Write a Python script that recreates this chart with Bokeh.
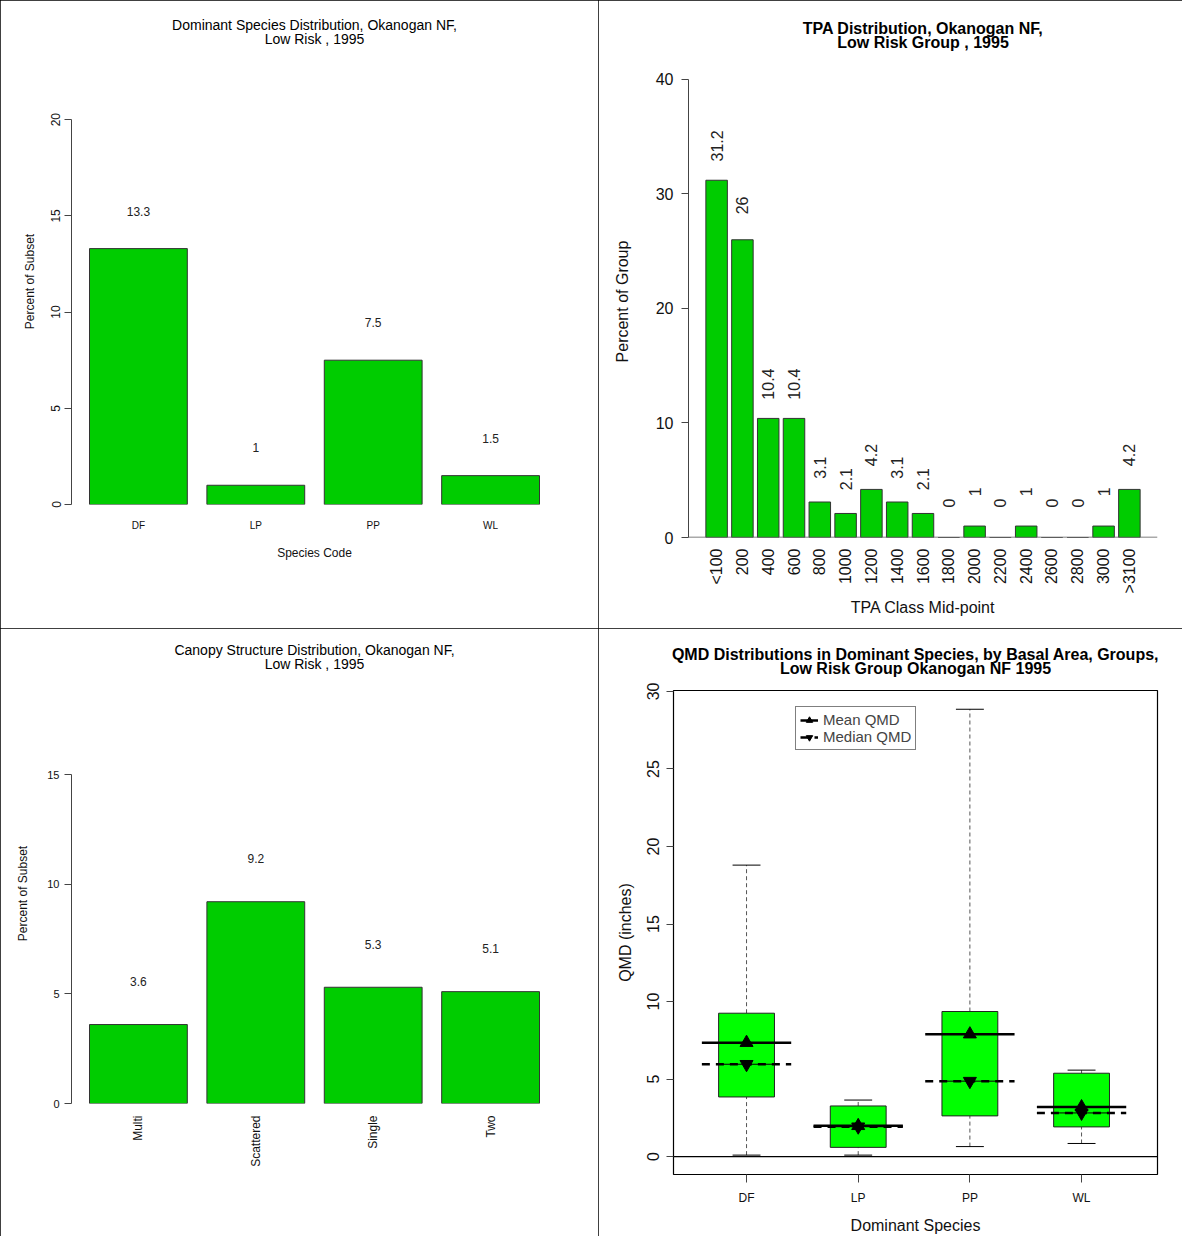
import math
import numpy as np
from bokeh.plotting import figure
from bokeh.layouts import column, row
from bokeh.models import (Range1d, FactorRange, FixedTicker, Span, LinearAxis,
                          CategoricalAxis, Legend, LegendItem)
from bokeh.core.properties import value
from bokeh.embed import file_html
from bokeh.resources import INLINE

# ---------------- data ----------------
species_codes = ["DF", "LP", "PP", "WL"]
species_pct = [13.3, 1.0, 7.5, 1.5]

tpa_classes = ["<100", "200", "400", "600", "800", "1000", "1200", "1400",
               "1600", "1800", "2000", "2200", "2400", "2600", "2800", "3000", ">3100"]
tpa_pct = [31.2, 26, 10.4, 10.4, 3.1, 2.1, 4.2, 3.1, 2.1, 0, 1, 0, 1, 0, 0, 1, 4.2]

canopy_classes = ["Multi", "Scattered", "Single", "Two"]
canopy_pct = [3.6, 9.2, 5.3, 5.1]

qmd_species = ["DF", "LP", "PP", "WL"]
qmd_whisker_low = [0.1, 0.1, 0.65, 0.85]
qmd_q1 = [3.85, 0.6, 2.63, 1.92]
qmd_q3 = [9.25, 3.27, 9.36, 5.38]
qmd_whisker_high = [18.8, 3.65, 28.85, 5.58]
qmd_mean = [7.35, 1.99, 7.9, 3.2]
qmd_median = [5.96, 1.93, 4.87, 2.82]

FONT = "Liberation Sans"
BAR_GREEN = "#00CC00"
BOX_GREEN = "#00FF00"
AX = "#444444"


def fmt(v):
    return f"{v:g}"


def base_fig(width, height, x_range, y_range, bl, br, bt, bb):
    p = figure(width=width, height=height, x_range=x_range, y_range=y_range,
               output_backend="svg", toolbar_location=None,
               min_border_left=bl, min_border_right=br,
               min_border_top=bt, min_border_bottom=bb)
    p.frame_align = False
    p.xgrid.visible = False
    p.ygrid.visible = False
    p.outline_line_color = None
    p.background_fill_color = "white"
    p.border_fill_color = "white"
    p.styles = {"outline": "2px solid black", "outline-offset": "-2px"}
    return p


def style_axis(ax, tick_size, label_size, tick_out, tick_standoff, label_standoff):
    ax.major_label_text_font = FONT
    ax.major_label_text_font_size = tick_size
    ax.major_label_text_color = "#111111"
    ax.axis_label_text_font = FONT
    ax.axis_label_text_font_size = label_size
    ax.axis_label_text_font_style = "normal"
    ax.axis_label_text_color = "#111111"
    ax.major_tick_out = tick_out
    ax.major_tick_in = 0
    ax.minor_tick_line_color = None
    ax.major_tick_line_color = AX
    ax.axis_line_color = AX
    ax.major_label_standoff = tick_standoff
    ax.axis_label_standoff = label_standoff


def add_title(p, lines, size, bold, standoff, line_height):
    """Two-line centred title drawn as the label of a bare axis above the frame."""
    if isinstance(p.x_range, FactorRange):
        ax = CategoricalAxis()
    else:
        ax = LinearAxis(ticker=FixedTicker(ticks=[]))
    ax.axis_line_color = None
    ax.major_tick_line_color = None
    ax.minor_tick_line_color = None
    ax.major_tick_out = 0
    ax.major_tick_in = 0
    ax.minor_tick_out = 0
    ax.minor_tick_in = 0
    ax.major_label_text_font_size = "0px"
    ax.major_label_text_color = None
    ax.major_label_standoff = 0
    ax.axis_label = "\n".join(lines)
    ax.axis_label_text_font = FONT
    ax.axis_label_text_font_size = size
    ax.axis_label_text_font_style = "bold" if bold else "normal"
    ax.axis_label_text_color = "black"
    ax.axis_label_text_align = "center"
    ax.axis_label_text_line_height = line_height
    ax.axis_label_standoff = standoff
    p.add_layout(ax, "above")


W_L = 598
W_R = 584
H_TOP = 628
H_BOT = 608

# ---------------- panel 1: dominant species ----------------
p1 = base_fig(W_L, H_TOP, FactorRange(factors=species_codes, range_padding=0.035),
              Range1d(0, 23.18), 71, 41, 58, 124)
p1.vbar(x=species_codes, top=species_pct, width=1 / 1.2,
        fill_color=BAR_GREEN, line_color="#333333", line_width=1)
p1.text(x=species_codes, y=[v + 1.95 for v in species_pct],
        text=[fmt(v) for v in species_pct], text_font=value(FONT),
        text_font_size="12px", text_align="center", text_baseline="middle",
        text_color="#222222")
style_axis(p1.yaxis[0], "12px", "12px", 7, 4, 12)
p1.yaxis.ticker = FixedTicker(ticks=[0, 5, 10, 15, 20])
p1.yaxis.bounds = (0, 20)
p1.yaxis.major_label_orientation = "vertical"
p1.yaxis.axis_label = "Percent of Subset"
style_axis(p1.xaxis[0], "10px", "12px", 0, 15, 12)
p1.xaxis.major_tick_line_color = None
p1.xaxis.axis_line_color = None
p1.xaxis.axis_label = "Species Code"
add_title(p1, ["Dominant Species Distribution, Okanogan NF,", "Low Risk , 1995"],
          "14px", False, 12, 0.82)

# ---------------- panel 2: TPA distribution ----------------
p2 = base_fig(W_R, H_TOP, FactorRange(factors=tpa_classes, range_padding=0.0694),
              Range1d(0, 41.22), 90, 25, 65, 91)
p2.vbar(x=tpa_classes, top=tpa_pct, width=1 / 1.2,
        fill_color=BAR_GREEN, line_color="#333333", line_width=1)
p2.text(x=tpa_classes, y=[v + 3 for v in tpa_pct], text=[fmt(v) for v in tpa_pct],
        angle=np.pi / 2, text_font=value(FONT), text_font_size="16px",
        text_align="center", text_baseline="middle", text_color="#222222")
p2.add_layout(Span(location=0, dimension="width", line_color="#555555", line_width=1.5))
style_axis(p2.yaxis[0], "16px", "16px", 7, 8, 22)
p2.yaxis.ticker = FixedTicker(ticks=[0, 10, 20, 30, 40])
p2.yaxis.bounds = (0, 40)
p2.yaxis.axis_label = "Percent of Group"
style_axis(p2.xaxis[0], "16px", "16px", 0, 11, 3)
p2.xaxis.major_tick_line_color = None
p2.xaxis.axis_line_color = None
p2.xaxis.major_label_orientation = math.pi / 2
p2.xaxis.axis_label = "TPA Class Mid-point"
add_title(p2, ["TPA Distribution, Okanogan NF,", "Low Risk Group , 1995"],
          "16px", True, 15, 0.82)

# ---------------- panel 3: canopy structure ----------------
p3 = base_fig(W_L, H_BOT, FactorRange(factors=canopy_classes, range_padding=0.035),
              Range1d(0, 19.15), 71, 41, 55, 133)
p3.vbar(x=canopy_classes, top=canopy_pct, width=1 / 1.2,
        fill_color=BAR_GREEN, line_color="#333333", line_width=1)
p3.text(x=canopy_classes, y=[v + 1.97 for v in canopy_pct],
        text=[fmt(v) for v in canopy_pct], text_font=value(FONT),
        text_font_size="12px", text_align="center", text_baseline="middle",
        text_color="#222222")
style_axis(p3.yaxis[0], "11px", "12px", 7, 5, 14)
p3.yaxis.ticker = FixedTicker(ticks=[0, 5, 10, 15])
p3.yaxis.bounds = (0, 15)
p3.yaxis.axis_label = "Percent of Subset"
style_axis(p3.xaxis[0], "12px", "12px", 0, 12, 10)
p3.xaxis.major_tick_line_color = None
p3.xaxis.axis_line_color = None
p3.xaxis.major_label_orientation = math.pi / 2
add_title(p3, ["Canopy Structure Distribution, Okanogan NF,", "Low Risk , 1995"],
          "14px", False, 12, 0.82)

# ---------------- panel 4: QMD boxplots ----------------
xs = list(np.arange(1, len(qmd_species) + 1, dtype=float))
p4 = base_fig(W_R, H_BOT, Range1d(0.346, 4.68), Range1d(-1.15, 30.06), 75, 25, 62, 59)
p4.outline_line_color = "black"
p4.outline_line_width = 1.2
p4.add_layout(Span(location=0, dimension="width", line_color="black", line_width=1.2))

# whiskers
p4.segment(x0=xs, y0=qmd_q3, x1=xs, y1=qmd_whisker_high, line_color="#555555",
           line_width=1, line_dash="4 3")
p4.segment(x0=xs, y0=qmd_whisker_low, x1=xs, y1=qmd_q1, line_color="#555555",
           line_width=1, line_dash="4 3")
# caps
p4.segment(x0=[x - 0.125 for x in xs], y0=qmd_whisker_high,
           x1=[x + 0.125 for x in xs], y1=qmd_whisker_high, line_color="black", line_width=1)
p4.segment(x0=[x - 0.125 for x in xs], y0=qmd_whisker_low,
           x1=[x + 0.125 for x in xs], y1=qmd_whisker_low, line_color="black", line_width=1)
# boxes
p4.quad(left=[x - 0.25 for x in xs], right=[x + 0.25 for x in xs],
        bottom=qmd_q1, top=qmd_q3, fill_color=BOX_GREEN, line_color="#222222", line_width=1)
# thin median inside box
p4.segment(x0=[x - 0.25 for x in xs], y0=qmd_median, x1=[x + 0.25 for x in xs],
           y1=qmd_median, line_color="black", line_width=1)
# mean / median lines and markers
mean_seg = p4.segment(x0=[x - 0.4 for x in xs], y0=qmd_mean, x1=[x + 0.4 for x in xs],
                      y1=qmd_mean, line_color="black", line_width=2.5)
med_seg = p4.segment(x0=[x - 0.4 for x in xs], y0=qmd_median, x1=[x + 0.4 for x in xs],
                     y1=qmd_median, line_color="black", line_width=2.5, line_dash="8 6")
mean_pts = p4.scatter(x=xs, y=qmd_mean, marker="triangle", size=13,
                      fill_color="black", line_color="black")
med_pts = p4.scatter(x=xs, y=qmd_median, marker="inverted_triangle", size=13,
                     fill_color="black", line_color="black")

legend = Legend(items=[LegendItem(label="Mean QMD", renderers=[mean_seg, mean_pts]),
                       LegendItem(label="Median QMD", renderers=[med_seg, med_pts])],
                location=(122, 424))
legend.label_text_font = FONT
legend.label_text_font_size = "15px"
legend.label_height = 16
legend.glyph_height = 16
legend.glyph_width = 18
legend.padding = 4
legend.spacing = 0
legend.margin = 0
legend.border_line_color = "black"
legend.background_fill_alpha = 1
p4.add_layout(legend)

style_axis(p4.yaxis[0], "16px", "16px", 7, 7, 11)
p4.yaxis.ticker = FixedTicker(ticks=[0, 5, 10, 15, 20, 25, 30])
p4.yaxis.major_label_orientation = "vertical"
p4.yaxis.axis_line_color = None
p4.yaxis.axis_label = "QMD (inches)"
style_axis(p4.xaxis[0], "12px", "16px", 8, 8, 9)
p4.xaxis.ticker = FixedTicker(ticks=xs)
p4.xaxis.major_label_overrides = {float(x): s for x, s in zip(xs, qmd_species)}
p4.xaxis.axis_line_color = None
p4.xaxis.axis_label = "Dominant Species"
add_title(p4, ["QMD Distributions in Dominant Species, by Basal Area, Groups,",
               "Low Risk Group Okanogan NF 1995"], "16px", True, 14, 0.82)

layout = column(row(p1, p2), row(p3, p4))

open("out.html", "w").write(file_html(layout, INLINE))
